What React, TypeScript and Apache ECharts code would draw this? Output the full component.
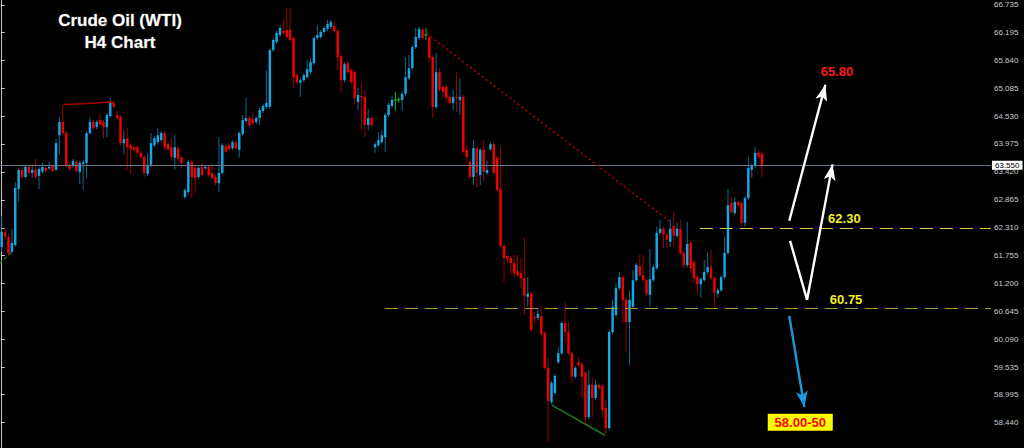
import { useEffect, useRef } from 'react';
import * as echarts from 'echarts';

// Right-hand price scale labels (as printed on the chart)
const tickValues = [66.735, 66.195, 65.64, 65.085, 64.53, 63.975, 63.42, 62.865, 62.31, 61.755, 61.2, 60.645, 60.09, 59.535, 58.995, 58.44];
const axisMin = 57.937;
const axisMax = 66.834;
const slotCount = 292; // candle slots across the plot, incl. empty future space

// H4 candles, oldest first
const opens = [
  61.93, 62.23, 62.13, 61.83, 61.97, 63.08, 63.46, 63.32, 63.52, 63.40,
  63.46, 63.34, 63.42, 63.50, 63.49, 63.54, 63.46, 64.15, 64.41, 64.19,
  63.56, 63.54, 63.62, 63.42, 63.58, 63.60, 64.19, 64.41, 64.31, 64.45,
  64.41, 64.31, 64.53, 64.79, 64.55, 64.51, 63.99, 64.09, 63.95, 63.91,
  63.91, 63.80, 63.72, 63.38, 63.56, 63.95, 64.01, 64.05, 64.19, 63.97,
  63.91, 63.70, 63.89, 63.70, 62.92, 63.02, 63.62, 63.50, 63.32, 63.52,
  63.49, 63.52, 63.40, 63.32, 63.20, 63.40, 63.93, 63.95, 63.89, 64.01,
  63.86, 64.17, 64.43, 64.49, 64.47, 64.41, 64.49, 64.63, 64.71, 64.71,
  65.84, 66.00, 66.14, 66.22, 66.24, 66.24, 66.08, 65.34, 65.19, 65.24,
  65.30, 65.40, 65.58, 66.08, 66.10, 66.20, 66.26, 66.30, 66.32, 66.22,
  65.72, 65.24, 65.58, 65.44, 65.40, 64.81, 64.93, 64.91, 64.35, 64.49,
  63.91, 63.95, 64.01, 64.11, 64.55, 64.73, 64.85, 64.85, 64.85, 64.97,
  65.28, 65.48, 65.90, 66.08, 66.24, 66.14, 66.10, 65.70, 64.71, 65.40,
  65.11, 65.11, 64.91, 64.79, 64.91, 64.85, 64.91, 63.86, 63.62, 63.32,
  63.89, 63.36, 63.86, 63.40, 63.87, 63.97, 63.70, 63.08, 61.95, 61.75,
  61.71, 61.61, 61.45, 61.41, 61.31, 60.94, 61.00, 60.54, 60.52, 60.56,
  60.22, 59.53, 58.85, 59.03, 59.64, 59.82, 60.42, 60.24, 59.82, 59.35,
  59.64, 59.60, 59.43, 58.55, 59.19, 58.93, 59.19, 59.17, 58.73, 58.33,
  60.24, 60.58, 61.11, 61.33, 60.88, 60.44, 60.74, 61.27, 61.55, 61.37,
  61.27, 60.98, 61.27, 61.51, 62.21, 62.29, 62.17, 62.03, 62.35, 62.15,
  62.29, 61.81, 61.57, 62.01, 61.63, 61.33, 61.19, 61.27, 61.43, 61.53,
  61.31, 61.00, 61.07, 61.33, 61.81, 62.80, 62.60, 62.82, 62.80, 62.41,
  62.90, 63.46, 63.54, 63.80, 63.78,
];
const closes = [
  62.23, 62.13, 61.81, 62.01, 63.10, 63.46, 63.32, 63.52, 63.40, 63.46,
  63.32, 63.48, 63.52, 63.44, 63.52, 63.44, 63.99, 64.41, 64.19, 63.54,
  63.48, 63.64, 63.44, 63.60, 63.61, 64.19, 64.41, 64.29, 64.41, 64.37,
  64.31, 64.55, 64.79, 64.71, 64.49, 63.99, 64.07, 63.91, 63.87, 63.86,
  63.80, 63.72, 63.40, 63.56, 63.99, 64.09, 64.15, 64.19, 63.91, 63.87,
  63.72, 63.91, 63.68, 63.60, 63.06, 63.62, 63.32, 63.30, 63.50, 63.36,
  63.52, 63.36, 63.30, 63.20, 63.40, 63.95, 63.82, 63.87, 64.01, 63.89,
  64.19, 64.45, 64.49, 64.35, 64.39, 64.49, 64.65, 64.73, 64.79, 65.84,
  66.04, 66.18, 66.28, 66.18, 66.10, 66.04, 65.30, 65.20, 65.24, 65.34,
  65.46, 65.60, 66.08, 66.14, 66.20, 66.28, 66.36, 66.40, 66.22, 65.70,
  65.24, 65.56, 65.40, 65.20, 64.89, 64.95, 64.90, 64.35, 64.49, 64.35,
  63.97, 64.05, 64.15, 64.55, 64.75, 64.85, 64.85, 64.85, 64.97, 65.30,
  65.48, 65.90, 66.10, 66.26, 66.08, 66.14, 65.68, 64.71, 65.40, 65.05,
  65.01, 64.89, 64.79, 64.91, 64.88, 64.91, 63.82, 63.72, 63.32, 63.89,
  63.40, 63.86, 63.42, 63.46, 63.97, 63.40, 63.06, 61.95, 61.71, 61.69,
  61.61, 61.41, 61.37, 61.31, 60.96, 61.00, 60.28, 60.51, 60.60, 60.20,
  59.53, 58.87, 59.23, 59.37, 59.82, 60.42, 60.24, 59.82, 59.35, 59.53,
  59.58, 59.35, 58.55, 59.19, 58.93, 59.19, 59.13, 58.69, 58.33, 60.24,
  60.74, 61.11, 61.33, 60.88, 60.44, 60.88, 61.27, 61.57, 61.37, 61.27,
  61.00, 61.29, 61.53, 62.21, 62.29, 62.17, 62.07, 62.29, 62.15, 62.29,
  61.81, 61.57, 61.99, 61.51, 61.31, 61.19, 61.29, 61.43, 61.53, 61.31,
  61.02, 61.07, 61.33, 61.81, 62.76, 62.62, 62.82, 62.76, 62.41, 62.90,
  63.50, 63.54, 63.80, 63.72, 63.55,
];
const lows = [
  61.83, 62.07, 61.75, 61.79, 61.93, 62.82, 63.28, 63.30, 63.36, 63.30,
  63.28, 63.08, 63.38, 63.40, 63.46, 63.42, 63.44, 63.76, 64.15, 63.50,
  63.44, 63.50, 63.40, 63.18, 63.06, 63.30, 64.15, 64.25, 64.27, 64.33,
  64.09, 64.11, 64.49, 64.67, 64.45, 63.95, 63.76, 63.46, 63.38, 63.82,
  63.76, 63.68, 63.32, 63.34, 63.52, 63.91, 63.97, 64.01, 63.87, 63.84,
  63.68, 63.46, 63.64, 63.50, 62.88, 62.98, 62.90, 63.00, 63.28, 63.32,
  63.46, 63.32, 63.26, 63.16, 63.02, 63.36, 63.78, 63.84, 63.86, 63.86,
  63.70, 64.13, 64.39, 64.31, 64.35, 64.37, 64.35, 64.59, 64.67, 64.67,
  65.80, 65.96, 66.10, 66.14, 66.06, 66.00, 65.09, 65.17, 64.91, 65.20,
  65.27, 65.36, 65.54, 66.04, 66.06, 66.16, 66.22, 66.26, 66.18, 65.44,
  64.99, 65.20, 65.36, 65.17, 64.75, 64.65, 64.25, 64.11, 64.25, 64.31,
  63.80, 63.91, 63.97, 63.82, 64.51, 64.69, 64.63, 64.79, 64.63, 64.93,
  65.24, 65.44, 65.86, 66.04, 66.04, 66.04, 65.60, 64.49, 64.67, 65.01,
  64.89, 64.79, 64.75, 64.65, 64.61, 64.55, 63.78, 63.60, 63.28, 63.16,
  63.12, 63.16, 63.22, 63.36, 63.84, 63.36, 63.02, 61.91, 61.23, 61.61,
  61.37, 61.33, 61.33, 61.11, 60.58, 60.74, 60.24, 60.42, 60.48, 60.16,
  59.49, 58.06, 58.81, 58.99, 59.60, 59.78, 60.02, 59.78, 59.23, 59.31,
  59.55, 58.93, 58.39, 58.51, 58.55, 58.89, 59.09, 58.55, 58.19, 58.29,
  60.20, 60.54, 61.07, 60.42, 59.84, 59.58, 60.70, 61.23, 61.33, 61.23,
  60.96, 60.74, 61.23, 61.47, 62.17, 61.91, 61.91, 61.93, 61.93, 62.11,
  61.77, 61.51, 61.53, 61.43, 61.21, 61.02, 60.92, 61.23, 61.39, 61.27,
  60.74, 60.92, 61.04, 61.29, 61.77, 62.58, 62.56, 62.72, 62.33, 62.33,
  62.86, 63.30, 63.50, 63.68, 63.32,
];
const highs = [
  62.56, 62.29, 62.19, 62.29, 63.22, 63.50, 63.52, 63.56, 63.56, 63.56,
  63.68, 63.52, 63.60, 63.54, 63.62, 63.56, 64.07, 64.51, 64.75, 64.23,
  63.60, 63.68, 63.66, 63.64, 63.66, 64.23, 64.51, 64.45, 64.45, 64.59,
  64.45, 64.59, 64.89, 64.83, 64.63, 64.55, 64.25, 64.29, 63.99, 63.95,
  63.95, 63.84, 63.76, 63.78, 64.19, 64.13, 64.29, 64.23, 64.23, 64.01,
  64.09, 64.15, 63.93, 63.74, 63.10, 63.66, 63.66, 63.54, 63.54, 63.60,
  63.56, 63.56, 63.60, 63.36, 64.11, 63.99, 63.97, 63.99, 64.05, 64.05,
  64.23, 64.55, 64.89, 64.53, 64.59, 64.53, 64.69, 64.77, 65.44, 65.88,
  66.08, 66.22, 66.34, 66.44, 66.68, 66.68, 66.12, 65.38, 65.29, 65.38,
  65.64, 65.68, 66.12, 66.34, 66.24, 66.32, 66.44, 66.44, 66.42, 66.26,
  65.76, 65.60, 65.62, 65.48, 65.44, 65.09, 65.19, 65.05, 64.67, 64.53,
  64.01, 64.21, 64.25, 64.59, 64.79, 64.93, 65.01, 64.91, 65.01, 65.70,
  65.74, 65.94, 66.28, 66.30, 66.28, 66.28, 66.14, 65.74, 65.78, 65.48,
  65.15, 65.15, 64.95, 65.05, 65.40, 65.28, 64.95, 63.95, 63.66, 64.05,
  63.93, 63.89, 64.05, 63.64, 64.01, 64.01, 63.74, 63.93, 61.99, 61.79,
  61.75, 61.77, 61.77, 61.71, 62.11, 61.33, 61.04, 60.64, 60.72, 60.76,
  60.26, 59.72, 59.27, 59.41, 59.94, 60.46, 60.82, 60.44, 59.86, 59.57,
  59.74, 59.64, 59.47, 59.49, 59.33, 59.29, 59.23, 59.21, 58.89, 60.28,
  60.88, 61.21, 61.43, 61.37, 60.92, 61.07, 61.47, 61.61, 61.77, 61.77,
  61.31, 61.89, 61.57, 62.33, 62.47, 62.33, 62.21, 62.48, 62.62, 62.41,
  62.47, 61.85, 62.43, 62.05, 61.67, 61.37, 61.33, 61.67, 61.83, 61.87,
  61.35, 61.11, 61.37, 62.13, 63.08, 62.92, 62.92, 62.86, 62.84, 62.94,
  63.72, 63.58, 63.91, 63.86, 63.82,
];

// Levels and annotation anchors (slot index, price)
const lastPrice = 63.55;
const resistanceLevel = 62.31;
const supportLevel = 60.72;
const zigzagTop = [[18.06, 64.76], [25.4, 64.78], [31.9, 64.81], [33.4, 64.78]];
const trendTop = [[125.2, 66.17], [196.9, 62.43]];
const trendBottom = [[162.05, 58.79], [177.75, 58.19]];
const trendLeft = [[-0.5, 61.61], [3.33, 61.85]];
const arrowUp = [[232.06, 62.45], [242.7, 65.15]];
const arrowDip = [[232.3, 62.05], [237.3, 60.88], [244.8, 63.57]];
const arrowDown = [[232.06, 60.56], [236.5, 58.75]];
const labelTarget = { text: '65.80', at: [246.1, 65.41] };
const labelRes = { text: '62.30', at: [248.3, 62.5] };
const labelSup = { text: '60.75', at: [248.8, 60.88] };
const labelBear = { text: '58.00-50', at: [235.3, 58.45] };

const FONT = 'Liberation Sans, Arial, sans-serif';

export default function App() {
  const ref = useRef<HTMLDivElement>(null);

  useEffect(() => {
    if (!ref.current) return;
    const chart = echarts.init(ref.current, null, { renderer: 'svg' });
    const candles = opens.map((o, i) => [i, o, closes[i], lows[i], highs[i]]);
    const xMax = slotCount - 0.5;

    const boldLabel = (color: string) => ({
      show: true,
      position: 'inside',
      color,
      fontSize: 13,
      fontWeight: 'bold',
      fontFamily: FONT,
    });

    chart.setOption({
      animation: false,
      backgroundColor: '#000000',
      title: {
        text: 'Crude Oil (WTI)\nH4 Chart',
        left: 120,
        top: 9,
        padding: 0,
        textAlign: 'center',
        textStyle: {
          color: '#ffffff',
          fontSize: 17,
          fontWeight: 'bold',
          fontFamily: FONT,
          lineHeight: 22,
          textBorderColor: '#3a3a3a',
          textBorderWidth: 1,
        },
      },
      grid: { left: 0, right: 33, top: 0, bottom: 0, containLabel: false },
      xAxis: {
        type: 'value',
        min: -0.5,
        max: xMax,
        show: false,
        splitLine: { show: false },
      },
      yAxis: {
        type: 'value',
        position: 'right',
        min: axisMin,
        max: axisMax,
        splitLine: { show: false },
        axisLine: { show: true, lineStyle: { color: '#c8c8c8', width: 1 } },
        axisTick: {
          show: true,
          length: 3,
          customValues: tickValues,
          lineStyle: { color: '#c8c8c8' },
        },
        axisLabel: {
          customValues: tickValues,
          formatter: (v: number) => v.toFixed(3),
          color: '#cccccc',
          fontSize: 8,
          margin: 3,
          fontFamily: FONT,
        },
      },
      series: [
        {
          type: 'custom',
          name: 'WTI',
          data: candles,
          encode: { x: 0, y: [1, 2, 3, 4] },
          clip: true,
          z: 2,
          renderItem: (_params: any, api: any) => {
            const i = api.value(0);
            const o = api.value(1);
            const c = api.value(2);
            const l = api.value(3);
            const h = api.value(4);
            const top = api.coord([i, Math.max(o, c)]);
            const bot = api.coord([i, Math.min(o, c)]);
            const hi = api.coord([i, h]);
            const lo = api.coord([i, l]);
            const w = api.size([1, 0])[0] * 0.72;
            const x = top[0];
            const up = c > o;
            const doji = c === o;
            const bodyCol = doji ? '#1fc21f' : up ? '#14a9e6' : '#f20000';
            const wickCol = doji ? '#1fa81f' : up ? '#0d6a94' : '#9a0000';
            const children: any[] = [
              {
                type: 'line',
                shape: { x1: x, y1: hi[1], x2: x, y2: lo[1] },
                style: { stroke: wickCol, lineWidth: 1 },
              },
            ];
            if (doji) {
              children.push({
                type: 'line',
                shape: { x1: x - w / 2 - 0.5, y1: top[1], x2: x + w / 2 + 0.5, y2: top[1] },
                style: { stroke: bodyCol, lineWidth: 1 },
              });
            } else {
              children.push({
                type: 'rect',
                shape: { x: x - w / 2, y: top[1], width: w, height: Math.max(1, bot[1] - top[1]) },
                style: { fill: bodyCol },
              });
            }
            return { type: 'group', children };
          },
        },
        {
          type: 'line',
          name: 'zigzag',
          data: zigzagTop,
          symbol: 'none',
          z: 3,
          lineStyle: { color: '#a80000', width: 1.5 },
        },
        {
          type: 'line',
          name: 'lowTrend',
          data: trendBottom,
          symbol: 'none',
          z: 3,
          lineStyle: { color: '#1c7a1c', width: 1.5 },
        },
        {
          type: 'line',
          name: 'leftTrend',
          data: trendLeft,
          symbol: 'none',
          z: 3,
          lineStyle: { color: '#1c7a1c', width: 1.2, type: [3, 3] },
        },
        {
          type: 'line',
          name: 'dip',
          data: arrowDip.slice(0, 2),
          symbol: 'none',
          z: 4,
          lineStyle: { color: '#ffffff', width: 2.4 },
        },
        {
          type: 'line',
          name: 'annotations',
          data: [],
          z: 4,
          markLine: {
            silent: true,
            animation: false,
            symbol: ['none', 'none'],
            label: { show: false },
            data: [
              [
                {
                  coord: [-0.5, lastPrice],
                  lineStyle: { color: '#66788a', width: 1, type: 'solid' },
                  label: {
                    show: true,
                    position: 'end',
                    distance: 1,
                    formatter: lastPrice.toFixed(3),
                    backgroundColor: '#ffffff',
                    color: '#000000',
                    fontSize: 8,
                    fontFamily: FONT,
                    padding: [1, 3, 0, 3],
                  },
                },
                { coord: [xMax, lastPrice] },
              ],
              [
                { coord: [205.7, resistanceLevel], lineStyle: { color: '#d8d040', width: 1.2, type: [13, 7] } },
                { coord: [xMax, resistanceLevel] },
              ],
              [
                { coord: [112.9, supportLevel], lineStyle: { color: '#a39c26', width: 1.2, type: [13, 7] } },
                { coord: [xMax, supportLevel] },
              ],
              [
                { coord: trendTop[0], lineStyle: { color: '#b40000', width: 1.5, type: [2, 3] } },
                { coord: trendTop[1] },
              ],
              [
                { coord: arrowUp[0], symbol: 'none', lineStyle: { color: '#ffffff', width: 2.4, type: 'solid' } },
                { coord: arrowUp[1], symbol: 'arrow', symbolSize: [9, 16] },
              ],
              [
                { coord: arrowDip[1], symbol: 'none', lineStyle: { color: '#ffffff', width: 2.4, type: 'solid' } },
                { coord: arrowDip[2], symbol: 'arrow', symbolSize: [9, 16] },
              ],
              [
                { coord: arrowDown[0], symbol: 'none', lineStyle: { color: '#1a9ad8', width: 2.4, type: 'solid' } },
                { coord: arrowDown[1], symbol: 'arrow', symbolSize: [9, 16] },
              ],
            ],
          },
          markPoint: {
            silent: true,
            animation: false,
            data: [
              {
                coord: labelTarget.at,
                symbol: 'circle',
                symbolSize: 1,
                itemStyle: { color: 'rgba(0,0,0,0)' },
                label: { ...boldLabel('#ff1414'), formatter: labelTarget.text },
              },
              {
                coord: labelRes.at,
                symbol: 'circle',
                symbolSize: 1,
                itemStyle: { color: 'rgba(0,0,0,0)' },
                label: { ...boldLabel('#f2ee2a'), formatter: labelRes.text },
              },
              {
                coord: labelSup.at,
                symbol: 'circle',
                symbolSize: 1,
                itemStyle: { color: 'rgba(0,0,0,0)' },
                label: { ...boldLabel('#f2ee2a'), formatter: labelSup.text },
              },
              {
                coord: labelBear.at,
                symbol: 'rect',
                symbolSize: [65, 17],
                itemStyle: { color: '#ffff00' },
                label: { ...boldLabel('#ff0000'), formatter: labelBear.text },
              },
            ],
          },
        },
      ],
    });

    return () => chart.dispose();
  }, []);

  return (
    <div
      ref={ref}
      style={{ position: 'absolute', left: 0, top: 0, width: 1024, height: 448, background: '#000' }}
    />
  );
}
